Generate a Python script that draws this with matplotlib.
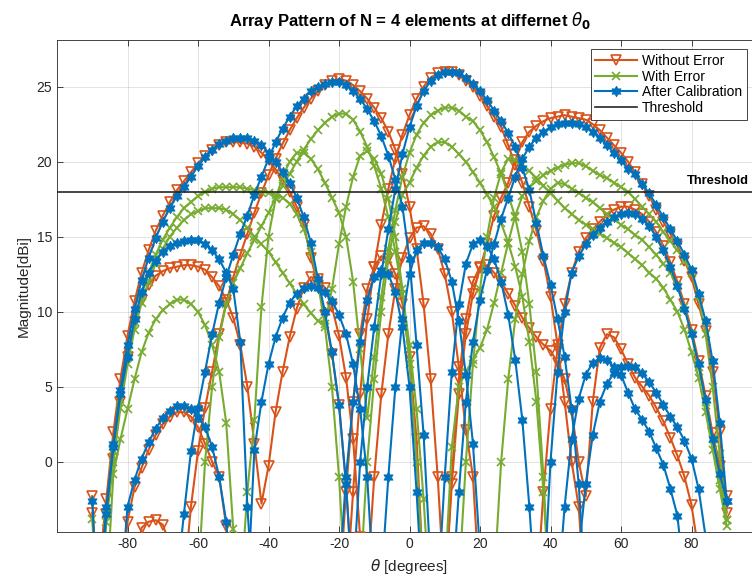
import numpy as np
import matplotlib
matplotlib.use("Agg")
import matplotlib.pyplot as plt
from matplotlib.path import Path

plt.rcParams['font.family'] = ['Liberation Sans', 'DejaVu Sans']
plt.rcParams['mathtext.fontset'] = 'dejavusans'
plt.rcParams['axes.unicode_minus'] = False

STEP = 2  # angular step of the sampled patterns [deg]

# ---------------- Without Error (orange) ----------------
o_main_m48_start = -88
o_main_m48 = [-7, -2.5, 2.0, 5.5, 8.4, 10.7, 12.6, 14.1, 15.4, 16.4, 17.3, 18.1, 18.7, 19.3,
              19.9, 20.4, 20.8, 21.1, 21.3, 21.3, 21.3, 21.2, 21.0, 20.6, 20.1, 19.5, 18.8,
              18.0, 17.0, 15.8, 13.6, 11.8, 9.8, 7.2, 3.8, -1.5, -9]
o_main_m20_start = -64
o_main_m20 = [-8, -3.0, 0.7, 3.6, 6.0, 8.5, 10.6, 12.3, 13.8, 15.2, 16.6, 17.9, 19.1, 20.2,
              21.2, 22.1, 22.9, 23.6, 24.2, 24.7, 25.1, 25.4, 25.5, 25.4, 25.1, 24.7, 24.2,
              23.6, 22.9, 22.0, 20.8, 19.2, 17.0, 14.2, 10.5, 5.5, -1.0, -9]
o_main_12_start = -18
o_main_12 = [-9, -2, 4.5, 9.5, 13.0, 15.8, 18.2, 20.2, 21.8, 23.1, 24.2, 25.0, 25.6, 25.9,
             26.0, 26.0, 25.8, 25.4, 25.0, 24.4, 23.7, 23.0, 22.3, 21.1, 19.8, 18.6, 17.0,
             15.4, 13.4, 11.0, 7.8, 4.0, 0.0, -3.0, -10]
o_main_45_start = 10
o_main_45 = [-9, -1.5, 4.5, 8.5, 11.2, 12.9, 14.5, 16.4, 17.6, 18.6, 20.1, 21.3, 22.0, 22.4,
             22.7, 22.9, 23.0, 23.1, 23.0, 22.9, 22.8, 22.5, 22.1, 21.6, 21.1, 20.6, 20.0,
             19.3, 18.5, 17.7, 16.8, 16.0, 15.2, 14.4, 13.4, 12.3, 10.5, 8.7, 6.0, 2.0, -3.4]
o_side_m62_start = -88
o_side_m62 = [-9, -3.5, 0.2, 4.0, 7.0, 9.3, 10.8, 11.8, 12.4, 12.7, 12.9, 13.0, 13.1, 13.1,
              13.0, 12.8, 12.3, 11.7, 10.8, 9.6, 7.8, 5.0, 1.2, -2.8, -0.3, 3.3, 6.0, 8.3,
              10.2, 11.6, 12.3, 12.2, 11.6, 10.3, 8.4, 5.6, 1.5, -5, -12]
o_side_m64_start = -82
o_side_m64 = [-9, -4.0, -1.7, -0.4, 0.8, 1.8, 2.5, 3.0, 3.3, 3.3, 3.0, 2.3, 1.2, 0.0, -1.0,
              -4.3, -10]
o_side_m72_start = -78
o_side_m72 = [-8, -4.4, -4.0, -3.9, -4.2, -5.5]
o_side_m9_start = -20
o_side_m9 = [-9, -2, 4, 8.5, 11.5, 13.0, 13.7, 13.5, 12.5, 10.5, 7.0, 1.5, -8]
o_side_3_start = -12
o_side_3 = [-8, -1, 4.5, 8.5, 11.5, 13.6, 14.9, 15.6, 15.7, 15.2, 14.2, 12.5, 10.0, 6.3, 2.1,
            -1.0, -9]
o_side_20_start = 10
o_side_20 = [-9, -1, 5.5, 9.5, 12.0, 13.0, 13.1, 12.6, 12.0, 11.2, 10.4, 9.6, 8.9, 8.3, 7.8,
             7.4, 6.6, 5.5, 3.4, 0.0, -2.3, 4.0, 7.6, 8.5, 8.3, 7.5, 6.5, 5.6, 5.0, 4.4,
             3.6, 2.7, 1.6, 0.4, -1.0, -2.9, -6, -10]
o_side_60_start = 36
o_side_60 = [-9, -2, 3.5, 7.5, 10.5, 12.6, 14.0, 14.9, 15.5, 16.0, 16.5, 16.8, 17.0, 17.0,
             16.8, 16.5, 16.0, 15.3, 14.4, 13.3, 12.0, 10.5, 8.8, 6.7, 4.4, 1.9, -0.3, -2.3]
o_edge_a = [-2.3, -12]
o_edge_b = [-3.4, -12]

# ---------------- With Error (green) ----------------
g_side_m65_start = -86
g_side_m65 = [-9, -0.8, 1.5, 3.5, 5.5, 7.3, 8.6, 9.5, 10.1, 10.5, 10.8, 10.8, 10.5, 10.0,
              9.1, 7.8, 6.0, 2.6, -4.5, -12]
g_lobe_m53_start = -88
g_lobe_m53 = [-10, -4, 0, 3.6, 6.5, 8.8, 10.6, 12.0, 13.2, 14.2, 15.0, 15.6, 16.1, 16.5,
              16.7, 16.9, 16.9, 16.9, 16.8, 16.5, 16.1, 15.6, 15.0, 14.5, 14.0, 13.3, 12.6,
              11.9, 11.2, 10.5, 9.9, 9.4, 9.2, 11.5, 14.5, 17.0, 19.0, 20.4, 20.7, 20.2,
              19.2, 17.5, 15.0, 11.5, 6.5, 0, -8]
g_lobe_m47_start = -88
g_lobe_m47 = [-10, -3.5, 0.8, 4.2, 7.0, 9.3, 11.1, 12.6, 13.8, 14.8, 15.6, 16.3, 16.9, 17.3,
              17.7, 18.0, 18.2, 18.3, 18.3, 18.3, 18.3, 18.2, 18.1, 18.0, 17.9, 17.8, 17.6,
              17.2, 16.5, 15.5, 14.0, 12.0, 9.0, 5.0, -1, -9]
g_lobe_m32_start = -48
g_lobe_m32 = [-9, -2.0, 2.8, 10.3, 15.0, 17.5, 19.0, 20.0, 20.6, 20.6, 20.2, 19.5, 18.6,
              17.6, 16.6, 15.0, 12.0, 7.5, 2.9, 7.0, 11.0, 14.2, 16.8, 19.0, 20.6, 21.8,
              22.6, 23.1, 23.4, 23.6, 23.6, 23.4, 23.0, 22.7, 22.1, 21.3, 20.3, 19.2, 17.8,
              16.3, 14.0, 10.5, 6.0, -1.0, -10]
g_main_m20_start = -60
g_main_m20 = [-8, 0, 5.0, 8.3, 10.5, 11.9, 12.9, 13.9, 14.8, 15.7, 16.6, 17.6, 18.4, 19.2,
              20.0, 20.8, 21.5, 22.1, 22.6, 23.0, 23.2, 23.2, 22.8, 22.0, 21.0, 19.7, 18.2,
              16.3, 14.0, 11.2, 7.8, 3.5, -2.5, -10]
g_main_9_start = -14
g_main_9 = [-8, 0, 5.5, 10.0, 13.5, 16.0, 17.8, 18.6, 19.6, 20.4, 21.0, 21.3, 21.3, 21.0,
            20.5, 20.0, 19.3, 18.6, 17.8, 17.0, 15.9, 14.6, 13.0, 11.0, 8.0, 4.0, -2, -10]
g_lobe_28_start = 14
g_lobe_28 = [-8, 0, 6.5, 11.5, 15.0, 17.6, 19.3, 20.2, 20.1, 19.8, 19.4, 18.9, 18.4, 17.9,
             17.4, 16.9, 16.5, 16.1, 15.8, 15.5, 15.2, 14.9, 14.6, 14.3, 13.9, 13.5, 13.1,
             12.6, 12.2, 11.6, 10.8, 10.0, 8.8, 7.3, 5.6, 3.3, 0.8, -1.8, -4.3]
g_main_47_start = 10
g_main_47 = [-8, 1, 5.0, 6.0, 6.8, 7.6, 8.8, 10.6, 12.6, 14.6, 16.4, 17.7, 18.3, 18.7, 19.1,
             19.4, 19.6, 19.8, 19.9, 19.9, 19.7, 19.4, 19.1, 18.9, 18.6, 18.3, 18.0, 17.5,
             17.0, 16.5, 16.0, 15.3, 14.7, 14.1, 13.4, 12.6, 11.0, 8.5, 5.0, 0.5, -3.9]
g_main_43_start = 24
g_main_43 = [-8, 0, 5.5, 9.5, 12.5, 14.7, 16.3, 17.4, 18.2, 18.6, 18.5, 18.2, 17.9, 17.6,
             17.3, 16.9, 16.5, 16.2, 15.8, 15.5, 15.1, 14.8, 14.3, 13.8, 13.2, 12.6, 11.7,
             10.3, 8.5, 6.3, 4.0, 1.5, -1.2, -3.9]
g_edge = [-3.8, -12]

# ---------------- After Calibration (blue) ----------------
b_main_m48_start = -88
b_main_m48 = [-9, -3.5, 1.2, 4.8, 7.8, 10.2, 12.1, 13.6, 14.9, 16.0, 16.9, 17.7, 18.3, 19.0,
              19.7, 20.3, 20.8, 21.2, 21.4, 21.6, 21.6, 21.6, 21.4, 21.1, 20.6, 20.0, 19.3,
              18.6, 17.6, 16.3, 14.6, 12.2, 10.0, 7.3, 3.8, -1.5, -9]
b_main_m20_start = -66
b_main_m20 = [-8, -3.5, 0.7, 3.6, 6.0, 8.5, 10.6, 12.3, 13.8, 15.2, 16.4, 17.8, 19.0, 20.2,
              21.3, 22.2, 23.0, 23.7, 24.2, 24.7, 25.0, 25.2, 25.3, 25.3, 25.1, 24.7, 24.2,
              23.5, 22.7, 21.7, 20.4, 18.8, 17.0, 13.5, 7.8, 1.8, -7]
b_main_12_start = -16
b_main_12 = [-8, 0, 5, 9, 12.5, 15.5, 18.2, 20.5, 22.3, 23.7, 24.7, 25.4, 25.8, 26.0, 26.0,
             25.9, 25.6, 25.2, 24.7, 24.1, 23.4, 22.7, 21.9, 21.0, 19.6, 18.1, 15.9, 13.7,
             11.8, 9.5, 7.0, 3.5, -1.5, -9]
b_main_45_start = 12
b_main_45 = [-9, -2, 4.0, 8.0, 10.8, 12.8, 14.5, 16.2, 17.6, 19.0, 20.2, 21.0, 21.6, 22.0,
             22.3, 22.5, 22.6, 22.6, 22.5, 22.3, 22.0, 21.6, 21.1, 20.6, 20.1, 19.5, 19.2,
             18.5, 17.9, 17.1, 16.3, 15.5, 14.7, 13.8, 12.8, 11.2, 9.4, 6.7, 2.6, -2.6]
b_side_m61_start = -88
b_side_m61 = [-9, -3, 1.0, 4.5, 7.0, 9.5, 11.3, 12.6, 13.4, 14.0, 14.4, 14.6, 14.7, 14.8,
              14.8, 14.5, 14.1, 13.5, 12.6, 11.5, 8.0, -3, -10]
b_side_m64_start = -82
b_side_m64 = [-9, -3.0, -1.2, 0.2, 1.3, 2.2, 2.9, 3.4, 3.7, 3.7, 3.5, 3.0, 2.3, 1.0, -1.0,
              -4.0, -10]
b_side_m28_start = -46
b_side_m28 = [-9, 0.8, 4.0, 6.5, 8.3, 9.6, 10.6, 11.2, 11.6, 11.7, 11.6, 11.3, 10.7, 9.8,
              8.5, 6.5, 3.5, -1, -9]
b_side_m8_start = -20
b_side_m8 = [-8, -1, 4, 8, 10.8, 12.3, 12.8, 12.5, 11.3, 9.0, 5.0, -2, -10]
b_side_5_start = -8
b_side_5 = [-8, -1, 5, 9.5, 12.5, 14.1, 14.6, 14.6, 14.3, 13.5, 12.0, 9.4, 5.8, 1.2, -6]
b_side_20_start = 8
b_side_20 = [-9, -1, 6, 10.5, 13.2, 14.5, 14.8, 14.4, 13.5, 12.0, 9.8, 6.8, 2.8, -3, -10]
b_side_54_start = 42
b_side_54 = [-9, -3, 1.5, 4.2, 5.8, 6.6, 6.9, 6.8, 6.3, 5.8, 4.6, 3.5, 2.8, 2.0, 0.9, -0.2,
             -1.8, -3.6, -8]
b_side_62_start = 48
b_side_62 = [-6, -1.5, 1.8, 4.0, 5.2, 5.9, 6.3, 6.4, 6.3, 5.9, 5.3, 4.6, 3.8, 3.0, 2.3, 1.4,
             0.2, -1.8, -5, -10]
b_side_63_start = 38
b_side_63 = [-9, 0, 6, 10, 12.6, 13.7, 14.5, 15.1, 15.6, 16.0, 16.3, 16.5, 16.6, 16.5, 16.2,
             15.7, 15.0, 14.1, 13.0, 11.7, 10.2, 8.5, 6.5, 4.1, 1.5, -0.8, -2.6]
b_edge = [-2.6, -12]

THRESHOLD = 18.0


def hexagram():
    """Six-pointed star outline, as used for the calibrated curves."""
    r_out, r_in = 1.0, 1.0 / np.sqrt(3)
    ang = np.pi / 2 + np.arange(12) * np.pi / 6
    rad = np.where(np.arange(12) % 2 == 0, r_out, r_in)
    verts = np.column_stack([rad * np.cos(ang), rad * np.sin(ang)])
    verts = np.vstack([verts, verts[:1]])
    codes = [Path.MOVETO] + [Path.LINETO] * 11 + [Path.CLOSEPOLY]
    return Path(verts, codes)


orange = dict(color='#D95319', marker='v', markerfacecolor='none', markeredgecolor='#D95319',
              markersize=6.5, markeredgewidth=1.2)
green = dict(color='#77AC30', marker='x', markersize=6, markeredgewidth=1.2)
blue = dict(color='#0072BD', marker=hexagram(), markerfacecolor='#0072BD',
            markeredgecolor='#0072BD', markersize=7.5, markeredgewidth=0.6)

orange_curves = [(o_main_m48_start, o_main_m48), (o_main_m20_start, o_main_m20),
                 (o_main_12_start, o_main_12), (o_main_45_start, o_main_45),
                 (o_side_m62_start, o_side_m62), (o_side_m64_start, o_side_m64),
                 (o_side_m72_start, o_side_m72), (o_side_m9_start, o_side_m9),
                 (o_side_3_start, o_side_3), (o_side_20_start, o_side_20),
                 (o_side_60_start, o_side_60), (-90, o_edge_a), (-90, o_edge_b)]
green_curves = [(g_side_m65_start, g_side_m65), (g_lobe_m53_start, g_lobe_m53),
                (g_lobe_m47_start, g_lobe_m47), (g_lobe_m32_start, g_lobe_m32),
                (g_main_m20_start, g_main_m20), (g_main_9_start, g_main_9),
                (g_lobe_28_start, g_lobe_28), (g_main_47_start, g_main_47),
                (g_main_43_start, g_main_43), (-90, g_edge)]
blue_curves = [(b_main_m48_start, b_main_m48), (b_main_m20_start, b_main_m20),
               (b_main_12_start, b_main_12), (b_main_45_start, b_main_45),
               (b_side_m61_start, b_side_m61), (b_side_m64_start, b_side_m64),
               (b_side_m28_start, b_side_m28), (b_side_m8_start, b_side_m8),
               (b_side_5_start, b_side_5), (b_side_20_start, b_side_20),
               (b_side_54_start, b_side_54), (b_side_62_start, b_side_62),
               (b_side_63_start, b_side_63), (-90, b_edge)]

fig = plt.figure(figsize=(7.52, 5.79), dpi=100)
ax = fig.add_axes([57 / 752, 1 - 532.3 / 579, 705 / 752, 492.3 / 579])


def draw(curves, style, label, z):
    for i, (start, vals) in enumerate(curves):
        th = start + STEP * np.arange(len(vals))
        ax.plot(th, vals, lw=1.5, zorder=z, label=label if i == 0 else None, **style)


draw(orange_curves, orange, 'Without Error', 3)
draw(green_curves, green, 'With Error', 4)
draw(blue_curves, blue, 'After Calibration', 5)
ax.axhline(THRESHOLD, color='#262626', lw=1.2, zorder=6, label='Threshold')
ax.text(78.6, THRESHOLD + 0.3, 'Threshold', fontsize=9.3, fontweight='bold', va='bottom',
        ha='left', zorder=7)

ax.set_xlim(-100, 100)
ax.set_ylim(-4.707, 28.11)
ax.set_xticks(np.arange(-80, 81, 20))
ax.set_yticks(np.arange(0, 26, 5))
ax.grid(True, color='#262626', alpha=0.15, lw=0.6)
ax.tick_params(direction='in', length=4, width=0.6, top=True, right=True, labelsize=10,
               colors='#262626')
for s in ax.spines.values():
    s.set_color('#262626')
    s.set_linewidth(0.6)
ax.set_xlabel(r'$\theta$ [degrees]', fontsize=11, color='#262626')
ax.set_ylabel('Magnitude[dBi]', fontsize=11, color='#262626')
ax.set_title(r'Array Pattern of N = 4 elements at differnet $\theta_\mathbf{0}$', fontsize=12,
             fontweight='bold', pad=10)
leg = ax.legend(loc='upper right', bbox_to_anchor=((747 - 57) / 705, (532.3 - 49) / 492.3),
                fontsize=10, frameon=True, fancybox=False, edgecolor='#262626',
                framealpha=1, borderpad=0.35, labelspacing=0.12, handlelength=3.0,
                handletextpad=0.35, borderaxespad=0.0)
leg.get_frame().set_linewidth(0.6)

fig.savefig('out.png', dpi=100)
